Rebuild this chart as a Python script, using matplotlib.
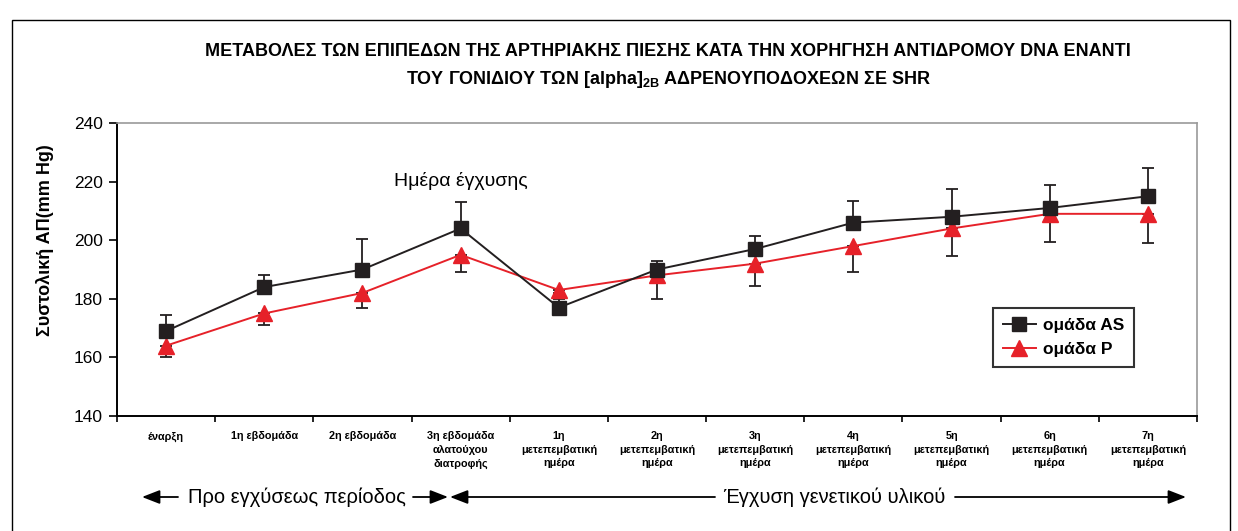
import matplotlib
matplotlib.use("Agg")
import matplotlib.pyplot as plt
from matplotlib.patches import Rectangle, FancyArrowPatch
from matplotlib.lines import Line2D

plt.rcParams['font.family'] = ['Liberation Sans', 'DejaVu Sans']
plt.rcParams['mathtext.fontset'] = 'custom'
plt.rcParams['mathtext.rm'] = 'Liberation Sans:bold'
plt.rcParams['mathtext.bf'] = 'Liberation Sans:bold'

categories = ["έναρξη", "1η εβδομάδα", "2η εβδομάδα",
              "3η εβδομάδα\nαλατούχου\nδιατροφής",
              "1η\nμετεπεμβατική\nημέρα", "2η\nμετεπεμβατική\nημέρα",
              "3η\nμετεπεμβατική\nημέρα", "4η\nμετεπεμβατική\nημέρα",
              "5η\nμετεπεμβατική\nημέρα", "6η\nμετεπεμβατική\nημέρα",
              "7η\nμετεπεμβατική\nημέρα"]
as_values = [169, 184, 190, 204, 177, 190, 197, 206, 208, 211, 215]
as_err_up = [5.5, 4, 10.5, 9, 3, 3, 4.5, 7.5, 9.5, 8, 9.5]
p_values = [164, 175, 182, 195, 183, 188, 192, 198, 204, 209, 209]
p_err_down = [4, 4, 5, 6, 1, 8, 7.5, 9, 9.5, 9.5, 10]
yticks = [140, 160, 180, 200, 220, 240]
title_line1 = "ΜΕΤΑΒΟΛΕΣ ΤΩΝ ΕΠΙΠΕΔΩΝ ΤΗΣ ΑΡΤΗΡΙΑΚΗΣ ΠΙΕΣΗΣ ΚΑΤΑ ΤΗΝ ΧΟΡΗΓΗΣΗ ΑΝΤΙΔΡΟΜΟΥ DNA ΕΝΑΝΤΙ"
title_line2 = r"ΤΟΥ ΓΟΝΙΔΙΟΥ ΤΩΝ [alpha]$_{\mathrm{2B}}$ ΑΔΡΕΝΟΥΠΟΔΟΧΕΩΝ ΣΕ SHR"
ylabel = "Συστολική ΑΠ(mm Hg)"
annotation = "Ημέρα έγχυσης"
period1 = "Προ εγχύσεως περίοδος"
period2 = "Έγχυση γενετικού υλικού"
legend_labels = ["ομάδα AS", "ομάδα P"]

W, H = 1238, 531
fig = plt.figure(figsize=(W / 100, H / 100), dpi=100)

def fx(px):
    return px / W

def fy(py):
    return 1 - py / H

# outer frame
fig.patches.append(Rectangle((fx(12), fy(545)), fx(1230) - fx(12), fy(20) - fy(545),
                             transform=fig.transFigure, fill=False, ec='black', lw=1.0))

ax = fig.add_axes([fx(117), fy(416), fx(1197) - fx(117), fy(123) - fy(416)])
x = list(range(len(categories)))
red = '#E62129'
blk = '#231F20'

ax.errorbar(x, as_values, yerr=[[0] * len(x), as_err_up], fmt='none', ecolor=blk,
            elinewidth=1.3, capsize=4, capthick=1.3, zorder=2)
ax.errorbar(x, p_values, yerr=[p_err_down, [0] * len(x)], fmt='none', ecolor=blk,
            elinewidth=1.3, capsize=4, capthick=1.3, zorder=2)
ax.plot(x, p_values, color=red, lw=1.4, marker='^', ms=12, mfc=red, mec=red, zorder=3,
        label=legend_labels[1])
ax.plot(x, as_values, color=blk, lw=1.4, marker='s', ms=10, mfc=blk, mec=blk, zorder=4,
        label=legend_labels[0])

ax.set_xlim(-0.5, len(categories) - 0.5)
ax.set_ylim(140, 240)
ax.set_yticks(yticks)
ax.set_yticklabels([str(v) for v in yticks], fontsize=12.5)
ax.tick_params(axis='y', direction='out', length=6, width=1.2, pad=4)
ax.set_xticks(x)
ax.set_xticklabels(categories, fontsize=7.8, fontweight='bold', linespacing=1.45)
ax.tick_params(axis='x', which='major', length=0, pad=11)
ax.set_xticks([i - 0.5 for i in range(len(categories) + 1)], minor=True)
ax.tick_params(axis='x', which='minor', direction='out', length=4, width=1.2)
for lab in ax.get_xticklabels():
    lab.set_verticalalignment('top')

ax.spines['left'].set_linewidth(1.4)
ax.spines['bottom'].set_linewidth(1.4)
ax.spines['top'].set_color('#9A9A9A')
ax.spines['right'].set_color('#9A9A9A')
ax.spines['top'].set_linewidth(1.2)
ax.spines['right'].set_linewidth(1.2)

fig.text(fx(45), fy(240), ylabel, rotation=90, ha='center', va='center',
         fontsize=13, fontweight='bold')

ax.text(3.0, 220.3, annotation, ha='center', va='center', fontsize=14)

handles = [Line2D([], [], color=blk, lw=1.4, marker='s', ms=10, mfc=blk, mec=blk),
           Line2D([], [], color=red, lw=1.4, marker='^', ms=12, mfc=red, mec=red)]
leg = fig.legend(handles, legend_labels, loc='upper left',
                 bbox_to_anchor=(fx(993), fy(308)), frameon=True, fancybox=False,
                 prop={'weight': 'bold', 'size': 12.5}, handlelength=1.9,
                 handletextpad=0.45, borderpad=0.55, labelspacing=0.55,
                 borderaxespad=0)
leg.get_frame().set_edgecolor('black')
leg.get_frame().set_linewidth(1.5)

fig.text(fx(668), fy(51), title_line1, ha='center', va='center', fontsize=13,
         fontweight='bold')
fig.text(fx(668), fy(80), title_line2, ha='center', va='center', fontsize=13,
         fontweight='bold')

# period annotations
fig.text(fx(297), fy(497), period1, ha='center', va='center', fontsize=14.5)
fig.text(fx(834), fy(497), period2, ha='center', va='center', fontsize=14.5)
ap = dict(arrowstyle='-|>,head_length=0.9,head_width=0.35', color='black', lw=1.3,
          shrinkA=0, shrinkB=0)
ya = fy(497)
for start, end in [(178, 142), (413, 448), (715, 450), (955, 1186)]:
    fig.add_artist(FancyArrowPatch((fx(start), ya), (fx(end), ya),
                   transform=fig.transFigure, mutation_scale=12, **ap))

fig.savefig("out.png", dpi=100)
